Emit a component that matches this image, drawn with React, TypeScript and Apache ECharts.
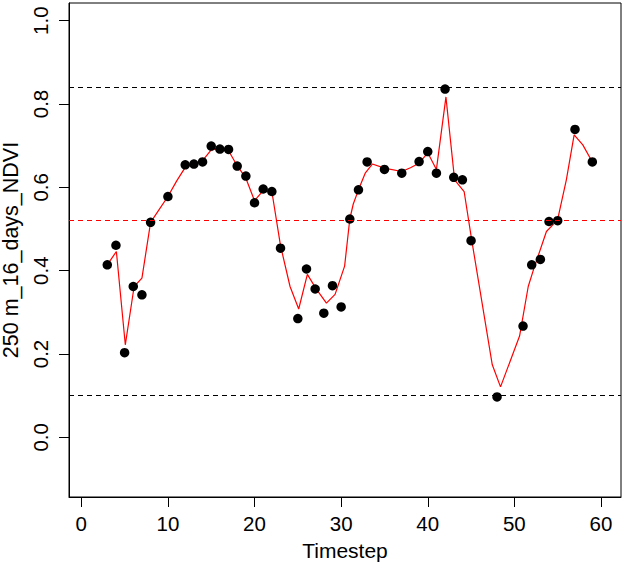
import React, { useEffect, useRef } from "react";
import * as echarts from "echarts";

// Observed NDVI points (timestep, value)
const obsTimesteps = [3, 4, 5, 6, 7, 8, 10, 12, 13, 14, 15, 16, 17, 18, 19, 20, 21, 22, 23, 25, 26, 27, 28, 29, 30, 31, 32, 33, 35, 37, 39, 40, 41, 42, 43, 44, 45, 48, 51, 52, 53, 54, 55, 57, 59];
const obsValues = [0.414, 0.461, 0.203, 0.362, 0.342, 0.516, 0.578, 0.654, 0.656, 0.661, 0.699, 0.692, 0.691, 0.651, 0.627, 0.563, 0.596, 0.59, 0.454, 0.285, 0.404, 0.356, 0.298, 0.364, 0.313, 0.524, 0.594, 0.661, 0.643, 0.634, 0.662, 0.686, 0.634, 0.836, 0.624, 0.618, 0.472, 0.097, 0.267, 0.414, 0.427, 0.518, 0.52, 0.739, 0.661];

// Fitted (red) curve vertices
const fitTimesteps = [3, 4.05, 5.08, 6.1, 7, 8, 9, 10, 11, 12, 13, 14, 15, 16, 17, 18, 19, 20, 21, 22, 23, 24.1, 25.1, 26.1, 27.1, 28.3, 29.3, 30.4, 31, 31.4, 32, 32.8, 33.6, 35, 37, 38, 39, 40, 41, 42.1, 43.1, 44.2, 45.07, 47.45, 48.4, 50.6, 51.6, 52.2, 53.7, 54.3, 55, 56, 56.9, 57.9, 59];
const fitValues = [0.414, 0.446, 0.222, 0.362, 0.382, 0.516, 0.547, 0.578, 0.615, 0.648, 0.656, 0.664, 0.69, 0.694, 0.688, 0.652, 0.622, 0.568, 0.592, 0.59, 0.46, 0.362, 0.308, 0.391, 0.357, 0.322, 0.343, 0.411, 0.524, 0.56, 0.594, 0.635, 0.656, 0.646, 0.638, 0.647, 0.658, 0.683, 0.643, 0.817, 0.618, 0.59, 0.474, 0.174, 0.121, 0.243, 0.362, 0.402, 0.494, 0.507, 0.523, 0.618, 0.726, 0.702, 0.661];

// Reference lines
const upperLine = 0.836;
const meanLine = 0.517;
const lowerLine = 0.097;

const xTicks = [0, 10, 20, 30, 40, 50, 60];
const yTicks = [0, 0.2, 0.4, 0.6, 0.8, 1.0];

const FONT = "Liberation Sans, Arial, Helvetica, sans-serif";

export default function App() {
  const ref = useRef<HTMLDivElement>(null);
  useEffect(() => {
    if (!ref.current) return;
    const chart = echarts.init(ref.current, null, { renderer: "svg" });
    const dash = { type: [5, 4] as any, width: 1 };
    chart.setOption({
      animation: false,
      backgroundColor: "#ffffff",
      grid: {
        left: 69,
        right: 4,
        top: 3,
        bottom: 67,
        containLabel: false,
        outerBoundsMode: "none",
        show: true,
        borderColor: "#000",
        borderWidth: 1,
        backgroundColor: "transparent",
      },
      xAxis: {
        type: "value",
        min: -1.42,
        max: 62.31,
        name: "Timestep",
        nameLocation: "middle",
        nameGap: 43,
        nameTextStyle: { fontFamily: FONT, fontSize: 21, color: "#000" },
        axisLine: { show: true, onZero: false, lineStyle: { color: "#000", width: 1 } },
        axisTick: { show: true, inside: false, length: 10, customValues: xTicks, lineStyle: { color: "#000", width: 1 } },
        axisLabel: {
          customValues: xTicks,
          margin: 16,
          fontFamily: FONT,
          fontSize: 20.5,
          color: "#000",
          formatter: (v: number) => String(v),
        },
        splitLine: { show: false },
      },
      yAxis: {
        type: "value",
        min: -0.1433,
        max: 1.0425,
        name: "250 m_16_days_NDVI",
        nameLocation: "middle",
        nameGap: 39,
        nameTextStyle: { fontFamily: FONT, fontSize: 21.5, color: "#000" },
        axisLine: { show: true, onZero: false, lineStyle: { color: "#000", width: 1 } },
        axisTick: { show: true, inside: false, length: 10, customValues: yTicks, lineStyle: { color: "#000", width: 1 } },
        axisLabel: {
          customValues: yTicks,
          rotate: 90,
          margin: 18,
          fontFamily: FONT,
          fontSize: 20.5,
          color: "#000",
          formatter: (v: number) => v.toFixed(1),
        },
        splitLine: { show: false },
      },
      series: [
        {
          type: "line",
          data: fitTimesteps.map((t, i) => [t, fitValues[i]]),
          showSymbol: false,
          symbol: "none",
          lineStyle: { color: "#ff0000", width: 1.2 },
          z: 3,
          markLine: {
            silent: true,
            symbol: "none",
            label: { show: false },
            data: [
              { yAxis: upperLine, lineStyle: { color: "#000", ...dash } },
              { yAxis: meanLine, lineStyle: { color: "#ff0000", ...dash } },
              { yAxis: lowerLine, lineStyle: { color: "#000", ...dash } },
            ],
          },
        },
        {
          type: "scatter",
          data: obsTimesteps.map((t, i) => [t, obsValues[i]]),
          symbol: "circle",
          symbolSize: 9.5,
          itemStyle: { color: "#000", opacity: 1 },
          z: 4,
        },
      ],
    });
    return () => chart.dispose();
  }, []);
  return (
    <div
      ref={ref}
      style={{ position: "absolute", left: 0, top: 0, width: 625, height: 564, background: "#fff" }}
    />
  );
}
